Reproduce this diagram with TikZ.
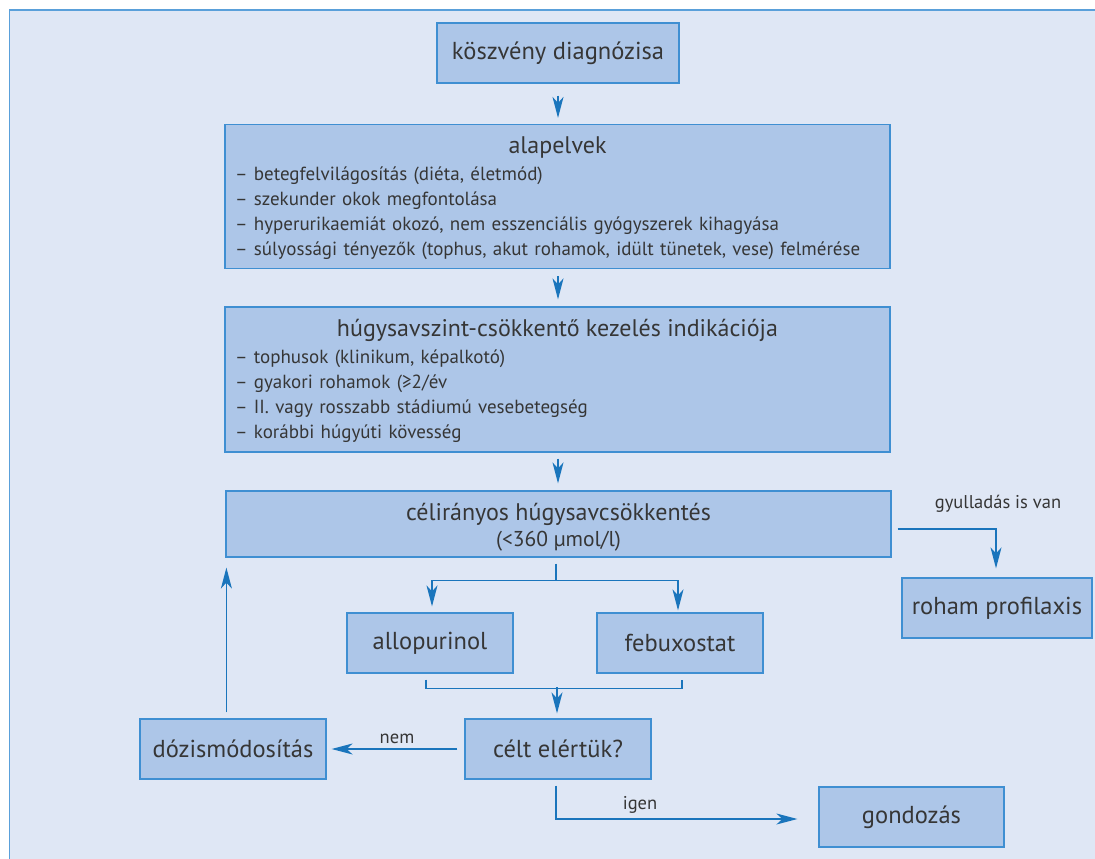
\documentclass[tikz,border=0pt]{standalone}
\usepackage{fontspec}
\setmainfont{PT Sans}
\usetikzlibrary{arrows.meta,calc}
\definecolor{bgc}{HTML}{DFE7F5}
\definecolor{boxc}{HTML}{ADC6E8}
\definecolor{bordc}{HTML}{3F8FD2}
\definecolor{arrc}{HTML}{1A75BC}
\definecolor{framec}{HTML}{5AA0DA}
\definecolor{txtc}{HTML}{363636}
\newcommand{\ttlfont}{\fontsize{24}{27}\selectfont}
\newcommand{\lstfont}{\fontsize{19}{25}\selectfont}
\begin{document}
\begin{tikzpicture}[x=1pt,y=-1pt,
  box/.style={draw=bordc, fill=boxc, line width=1.2pt, inner sep=0pt, text=txtc, font=\fontsize{24.5}{27}\selectfont},
  lsttxt/.style={inner sep=0pt, text=txtc, text width=645pt, align=left, font=\lstfont},
  conn/.style={draw=arrc, line width=1.3pt},
  arr/.style={conn, -{Stealth[length=21pt,width=11pt,inset=6pt]}},
  lbl/.style={text=txtc, font=\fontsize{18.5}{21}\selectfont, inner sep=0pt},
]
\useasboundingbox (0,0) rectangle (1095,859);
\fill[white] (0,0) rectangle (1095,859);
\draw[framec, fill=bgc, line width=1.5pt] (9.5,10) rectangle (1110,880);

\node[box, minimum width=242pt, minimum height=60pt] (k) at (558,53) {köszvény diagnózisa};

\node[box, minimum width=665pt, minimum height=144pt] (alap) at (557.5,196.5) {};
\node[lsttxt] (alaptxt) at ($(alap.center)+(0,1.5)$) {%
\makebox[645pt][c]{\ttlfont alapelvek}\\[2pt]
– betegfelvilágosítás (diéta, életmód)\\
– szekunder okok megfontolása\\
– hyperurikaemiát okozó, nem esszenciális gyógyszerek kihagyása\\
– súlyossági tényezők (tophus, akut rohamok, idült tünetek, vese) felmérése};

\node[box, minimum width=665pt, minimum height=145pt] (hugy) at (557.5,379.5) {};
\node[lsttxt] (hugytxt) at ($(hugy.center)+(0,1.2)$) {%
\makebox[645pt][c]{\ttlfont húgysavszint-csökkentő kezelés indikációja}\\[2pt]
– tophusok (klinikum, képalkotó)\\
– gyakori rohamok (≥2/év\\
– II. vagy rosszabb stádiumú vesebetegség\\
– korábbi húgyúti kövesség};

\node[box, minimum width=665pt, minimum height=66pt] (celir) at (558.5,524) {};
\node[inner sep=0pt, text=txtc, align=center, font=\fontsize{24}{26.5}\selectfont] (celirtxt) at ($(celir.center)+(0,3)$) {%
célirányos húgysavcsökkentés\\[0pt]
{\fontsize{21.5}{26.5}\selectfont (<360 µmol/l)}};

\node[box, minimum width=190pt, minimum height=60pt] (roham) at (997,608) {roham profilaxis};
\node[box, minimum width=166pt, minimum height=60pt] (allo) at (430,643) {allopurinol};
\node[box, minimum width=166pt, minimum height=60pt] (febu) at (680,643) {febuxostat};
\node[box, minimum width=186pt, minimum height=60pt] (dozis) at (233,749) {dózismódosítás};
\node[box, minimum width=186pt, minimum height=60pt] (celt) at (558,749) {célt elértük?};
\node[box, minimum width=185pt, minimum height=60pt] (gond) at (911.5,817) {gondozás};

% main vertical flow
\draw[arr] ([yshift=-12pt]k.south) -- ([yshift=6pt]k.south |- alap.north);
\draw[arr] ([yshift=-7pt]k.south |- alap.south) -- ([yshift=7pt]k.south |- hugy.north);
\draw[arr] ([yshift=-6pt]k.south |- hugy.south) -- ([yshift=7pt]k.south |- celir.north);

% split to drugs
\coordinate (spt) at ($(celir.south)+(-2.5,6)$);
\coordinate (spj) at ($(celir.south)+(-2.5,23)$);
\draw[conn] (spt) -- (spj);
\draw[arr] (spj) -| ($(allo.north)+(2,-6)$);
\draw[arr] (spj) -| ($(febu.north)+(-2,-2)$);

% merge from drugs
\coordinate (ml) at ($(allo.south)+(-4,6)$);
\coordinate (mr) at ($(febu.south)+(2,6)$);
\coordinate (mj) at ($(celt.north)+(-1,-31)$);
\draw[conn] (ml) -- ++(0,9) -| (mr);
\draw[arr] (mj) -- ($(celt.north)+(-1,-5)$);

% nem
\draw[arr] ([xshift=-7pt]celt.west) -- ([xshift=5pt]celt.west -| dozis.east);
\node[lbl] (nem) at (397,739) {nem};

% igen
\draw[arr] ($(celt.south)+(-2,6)$) |- ([xshift=-21pt,yshift=-2pt]gond.west);
\node[lbl] (igen) at (640,805) {igen};

% back to celir
\coordinate (ua) at ($(dozis.north -| celir.west)+(1,-6)$);
\draw[arr] (ua) -- ($(celir.south west)+(1,10)$);

% gyulladas
\draw[arr] ($(celir.east)+(6,5)$) -| ($(roham.north)+(-1,-9)$);
\node[lbl] (gyul) at (998,504) {gyulladás is van};
\end{tikzpicture}
\end{document}
